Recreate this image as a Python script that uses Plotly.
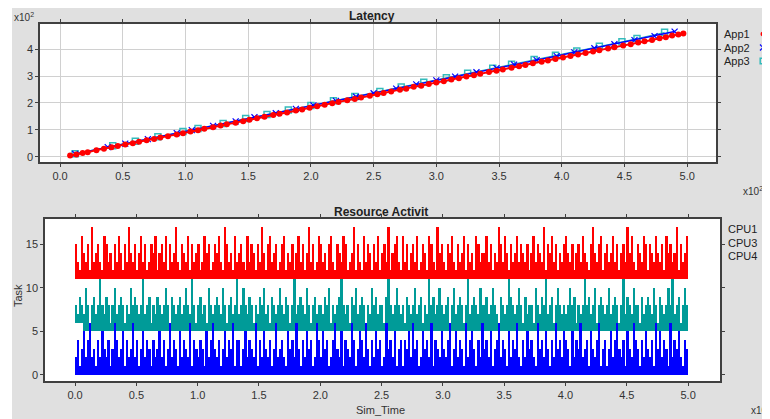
import plotly.graph_objects as go

# The page body has an 8px margin, so the figure is 762x411 and sits at (8, 8).
W, H = 762, 411
OFF = 8

# ---------------- Latency data (x10^2 units) ----------------
app1_x = [0.08,0.13,0.18,0.22,0.29,0.35,0.41,0.46,0.52,0.58,0.63,0.69,0.75,0.80,0.86,0.93,0.98,1.04,1.10,1.15,
          1.22,1.28,1.33,1.40,1.46,1.51,1.57,1.63,1.70,1.75,1.81,1.88,1.93,1.99,2.05,2.11,2.17,2.22,2.29,2.35,
          2.40,2.47,2.53,2.58,2.64,2.71,2.76,2.82,2.88,2.94,3.00,3.06,3.12,3.18,3.24,3.30,3.35,3.42,3.48,3.53,
          3.60,3.66,3.71,3.77,3.84,3.89,3.95,4.01,4.07,4.13,4.19,4.25,4.30,4.37,4.42,4.49,4.55,4.61,4.66,4.72,
          4.78,4.83,4.88,4.93,4.97]
app1_y = [0.05,0.09,0.14,0.17,0.25,0.30,0.36,0.40,0.46,0.51,0.56,0.62,0.66,0.72,0.77,0.83,0.88,0.94,0.99,1.04,
          1.10,1.16,1.21,1.27,1.32,1.38,1.43,1.49,1.55,1.60,1.65,1.72,1.76,1.82,1.88,1.93,1.99,2.04,2.10,2.15,
          2.20,2.27,2.32,2.37,2.43,2.49,2.53,2.60,2.64,2.70,2.76,2.81,2.87,2.92,2.98,3.03,3.08,3.15,3.20,3.24,
          3.31,3.36,3.41,3.47,3.53,3.58,3.63,3.69,3.74,3.80,3.85,3.91,3.96,4.02,4.07,4.13,4.18,4.24,4.29,4.34,
          4.40,4.44,4.50,4.54,4.58]
app2_x = [0.12,0.38,0.52,0.70,0.93,1.05,1.22,1.40,1.55,1.72,1.88,2.02,2.20,2.36,2.50,2.68,2.84,3.00,3.15,3.32,
          3.48,3.62,3.80,3.96,4.10,4.26,4.42,4.58,4.74,4.90]
app2_y = [0.11,0.36,0.49,0.66,0.88,0.99,1.15,1.32,1.47,1.62,1.78,1.91,2.08,2.23,2.36,2.53,2.69,2.84,2.98,3.14,
          3.29,3.42,3.59,3.74,3.88,4.03,4.18,4.33,4.48,4.65]
app3_x = [0.12,0.42,0.60,0.78,0.98,1.10,1.30,1.48,1.65,1.82,2.00,2.18,2.35,2.55,2.72,2.90,3.08,3.25,3.45,3.60,
          3.78,3.95,4.12,4.30,4.48,4.60,4.82]
app3_y = [0.12,0.41,0.58,0.75,0.94,1.05,1.24,1.42,1.57,1.74,1.91,2.08,2.24,2.43,2.59,2.77,2.94,3.10,3.29,3.44,
          3.61,3.77,3.93,4.10,4.27,4.39,4.62]

# ---------------- Resource activity data (task id per time slot) ----------------
cpu1_task = [15,13,12,16,14,13,15,12,17,13,14,15,13,12,16,15,13,14,12,15,
             13,16,14,12,15,13,17,14,13,15,12,14,16,13,15,12,13,15,14,16,
             12,14,15,13,16,12,15,13,14,17,13,12,15,14,13,16,12,15,13,14,
             15,12,13,16,14,15,12,13,15,14,16,13,12,17,15,13,14,12,16,13,
             14,15,13,12,16,13,15,14,12,15,13,17,14,12,15,16,13,14,15,12,
             13,15,16,12,14,13,15,12,14,16,13,15,12,14,17,13,15,12,13,16,
             15,13,14,12,15,16,13,12,15,14,13,16,15,12,13,14,17,12,15,13,
             12,16,13,15,14,12,15,13,16,12,14,15,13,17,12,14,15,16,13,12,
             16,13,15,12,14,15,13,16,12,13,15,14,12,16,15,13,12,17,14,15,
             13,12,15,14,16,13,12,15,13,14,16,12,15,13,14,12,16,15,13,14,
             14,16,13,15,12,14,13,17,15,13,16,14,12,15,13,14,16,13,15,14,
             13,15,12,14,16,13,15,14,13,17,12,15,14,16,13,15,12,14,13,15,
             16,14,13,15,12,14,15,13,16,14,13,12,15,17,14,13,15,16,12,14,
             15,13,14,16,13,15,12,14,15,13,17,14,16,13,12,15,14,13,16,15,
             12,15,14,13,16,14,13,15,12,16,14,15,13,14,17,12,15,13,14,16]
cpu4_task = [8,7,9,8,7,10,8,6,8,9,7,8,11,8,7,9,8,6,8,10,
             7,8,9,8,6,8,7,10,8,9,8,7,8,11,7,8,9,6,8,7,
             9,8,7,8,10,8,6,9,8,7,8,9,7,8,10,8,7,11,8,6,
             8,9,7,8,6,10,8,7,8,9,8,7,10,8,6,8,9,7,8,11,
             7,8,10,8,7,9,8,6,8,7,9,8,10,7,8,6,9,8,7,8,
             10,8,7,9,8,6,8,11,7,8,9,8,7,10,8,6,8,9,7,8,
             8,7,9,8,10,6,8,7,8,9,11,8,7,8,6,9,8,10,7,8,
             9,8,6,8,7,10,8,9,7,8,8,6,9,11,8,7,8,10,8,7,
             8,6,9,8,7,8,10,7,8,9,6,8,7,11,8,9,7,8,10,8,
             7,8,9,6,8,10,7,8,9,8,6,8,11,7,8,9,8,7,10,8,
             8,9,7,8,10,8,7,6,9,8,7,8,11,9,8,7,8,10,8,6,
             9,7,8,8,6,10,8,7,9,8,11,7,8,9,6,8,10,8,7,8,
             7,8,10,8,9,6,8,7,8,11,8,9,7,8,10,6,8,9,8,7,
             8,10,7,8,9,8,6,8,11,7,9,8,7,10,8,8,6,9,7,8,
             9,8,7,10,8,6,9,8,7,8,10,8,11,7,8,9,6,8,10,8]
cpu3_task = [2,4,1,3,5,2,4,6,2,3,1,4,2,5,3,2,4,1,3,6,
             4,2,3,5,1,4,2,3,6,2,4,1,3,5,2,4,3,1,4,2,
             3,5,2,4,1,3,6,2,4,3,1,5,2,4,3,2,6,1,4,3,
             2,4,3,1,5,2,4,6,3,2,4,1,3,5,2,4,3,6,1,4,
             4,1,3,5,2,4,3,2,6,1,4,2,5,3,2,4,1,3,6,2,
             3,4,2,1,5,3,4,2,6,3,1,4,2,5,3,4,1,2,6,4,
             2,5,3,4,1,2,4,6,3,2,5,1,4,3,2,6,4,1,3,5,
             4,2,6,3,1,4,2,5,3,4,1,2,6,3,4,2,5,1,3,4,
             1,4,3,5,2,6,3,4,1,2,5,3,4,2,6,1,4,3,2,5,
             3,2,4,6,1,3,5,2,4,3,1,6,2,4,5,3,1,4,2,6,
             3,4,2,5,1,3,4,6,2,4,3,1,5,2,4,3,6,2,1,4,
             2,5,3,4,2,1,6,3,4,2,5,3,1,4,2,6,3,4,2,5,
             4,3,1,5,2,4,3,6,2,3,4,1,5,3,2,4,6,1,3,4,
             1,3,5,2,4,6,3,2,4,1,5,3,2,6,4,3,1,4,2,5,
             3,2,4,1,6,3,5,2,4,3,1,6,2,4,3,5,2,1,4,3]
SLOT_COUNT = len(cpu1_task)
SIM_END = 5.0                      # x10^2 time units
SLOT_WIDTH = SIM_END / SLOT_COUNT
cpu1_base = [11] * SLOT_COUNT
cpu3_base = [0] * SLOT_COUNT
cpu4_base = [6] * 4 + [5] * (SLOT_COUNT - 4)

lat_xticks = [0.0, 0.5, 1.0, 1.5, 2.0, 2.5, 3.0, 3.5, 4.0, 4.5, 5.0]
lat_yticks = [0, 1, 2, 3, 4]
act_yticks = [0, 5, 10, 15]

slot_time = [SLOT_WIDTH * (i + 0.5) for i in range(SLOT_COUNT)]

RED, BLUE, TEAL, TEAL_L = "#ff0000", "#0000ff", "#009b98", "#33bbbb"
FONT = "Liberation Sans"

def px(x):  # window pixel -> paper fraction
    return (x - OFF) / W

def py(y):
    return 1 - (y - OFF) / H

fig = go.Figure()

fig.add_trace(go.Scatter(x=app3_x, y=app3_y, mode="lines+markers", name="App3",
                         line=dict(color=TEAL_L, width=1),
                         marker=dict(symbol="square-open", size=6, color=TEAL_L, line=dict(width=1.5)),
                         xaxis="x", yaxis="y", showlegend=False))
fig.add_trace(go.Scatter(x=app2_x, y=app2_y, mode="lines+markers", name="App2",
                         line=dict(color=BLUE, width=1.5),
                         marker=dict(symbol="x-thin", size=6, color=BLUE, line=dict(width=1.2, color=BLUE)),
                         xaxis="x", yaxis="y", showlegend=False))
fig.add_trace(go.Scatter(x=app1_x, y=app1_y, mode="lines+markers", name="App1",
                         line=dict(color=RED, width=2),
                         marker=dict(symbol="circle", size=6, color=RED),
                         xaxis="x", yaxis="y", showlegend=False))

for name, vals, bases, col in [("CPU1", cpu1_task, cpu1_base, RED),
                               ("CPU4", cpu4_task, cpu4_base, TEAL),
                               ("CPU3", cpu3_task, cpu3_base, BLUE)]:
    fig.add_trace(go.Bar(x=slot_time, y=[v - b for v, b in zip(vals, bases)], base=bases,
                         width=SLOT_WIDTH * 0.85, name=name, marker=dict(color=col, line=dict(width=0)),
                         opacity=1, xaxis="x2", yaxis="y2", showlegend=False))

axis_common = dict(showline=True, linecolor="#404040", linewidth=1.5, mirror="ticks",
                   ticks="outside", ticklen=3, tickcolor="#404040", zeroline=False,
                   tickfont=dict(family=FONT, size=11, color="#333333"))

shapes = [dict(type="rect", xref="paper", yref="paper", x0=0, x1=px(12), y0=0, y1=1,
               fillcolor="#ffffff", line=dict(width=0), layer="below")]

# legend symbols (drawn to the right of the labels, like the original)
def sq(cx, cy, h, fill, line_col, lw=0):
    return dict(type="rect", xref="paper", yref="paper", x0=px(cx - h), x1=px(cx + h),
                y0=py(cy + h), y1=py(cy - h), fillcolor=fill, line=dict(color=line_col, width=lw))

shapes.append(dict(type="circle", xref="paper", yref="paper", x0=px(760.5), x1=px(765.5),
                   y0=py(36.5), y1=py(31.5), fillcolor=RED, line=dict(color=RED, width=0)))
for (x0, y0, x1, y1) in [(760, 44.5, 766, 50.5), (760, 50.5, 766, 44.5)]:
    shapes.append(dict(type="line", xref="paper", yref="paper", x0=px(x0), y0=py(y0), x1=px(x1), y1=py(y1),
                       line=dict(color=BLUE, width=1.2)))
shapes.append(sq(763, 61, 2.8, "rgba(0,0,0,0)", TEAL_L, 1.5))
for i, col in enumerate([RED, BLUE, TEAL]):
    shapes.append(sq(766.5, 229 + i * 13.5, 2.8, col, col, 0))

fig.update_layout(
    width=W, height=H,
    margin=dict(l=0, r=0, t=0, b=0),
    paper_bgcolor="#e0e0e0", plot_bgcolor="#ffffff",
    barmode="overlay", bargap=0,
    xaxis=dict(domain=[px(40), px(716)], range=[-0.16, 5.23], tickvals=lat_xticks,
               ticktext=[f"{v:.1f}" for v in lat_xticks], showgrid=True, gridcolor="#d0d0d0",
               anchor="y", **axis_common),
    yaxis=dict(domain=[py(162), py(24)], range=[-0.19, 4.93], tickvals=lat_yticks,
               showgrid=True, gridcolor="#d0d0d0", anchor="x", **axis_common),
    xaxis2=dict(domain=[px(45), px(720)], range=[-0.245, 5.26], tickvals=lat_xticks,
                ticktext=[f"{v:.1f}" for v in lat_xticks], showgrid=False, anchor="y2", **axis_common),
    yaxis2=dict(domain=[py(381), py(219)], range=[-0.7, 17.9], tickvals=act_yticks,
                showgrid=False, anchor="x2", **axis_common),
    shapes=shapes,
)

ann = []
def text(x, y, s, size=11, color="#222222", xanchor="left", bold=False, textangle=0):
    ann.append(dict(xref="paper", yref="paper", x=px(x), y=py(y), text=f"<b>{s}</b>" if bold else s,
                    showarrow=False, xanchor=xanchor, yanchor="middle", textangle=textangle,
                    font=dict(family=FONT, size=size, color=color)))

text(372, 16, "Latency", size=12, xanchor="center", bold=True)
text(381, 212, "Resource Activit", size=12, xanchor="center", bold=True)
text(12, 17, "x10<sup>2</sup>", size=10, color="#333333")
text(741, 191, "x10<sup>2</sup>", size=10, color="#333333")
text(749, 410, "x10<sup>2</sup>", size=10, color="#333333")
text(18, 296, "Task", size=11, color="#333333", xanchor="center", textangle=-90)
text(380, 410, "Sim_Time", size=11, color="#333333", xanchor="center")

for i, lab in enumerate(["App1", "App2", "App3"]):
    text(722, 34 + i * 13.5, lab, size=11)
for i, lab in enumerate(["CPU1", "CPU3", "CPU4"]):
    text(726, 229 + i * 13.5, lab, size=11)

fig.update_layout(annotations=ann)
fig.write_html("out.html")
